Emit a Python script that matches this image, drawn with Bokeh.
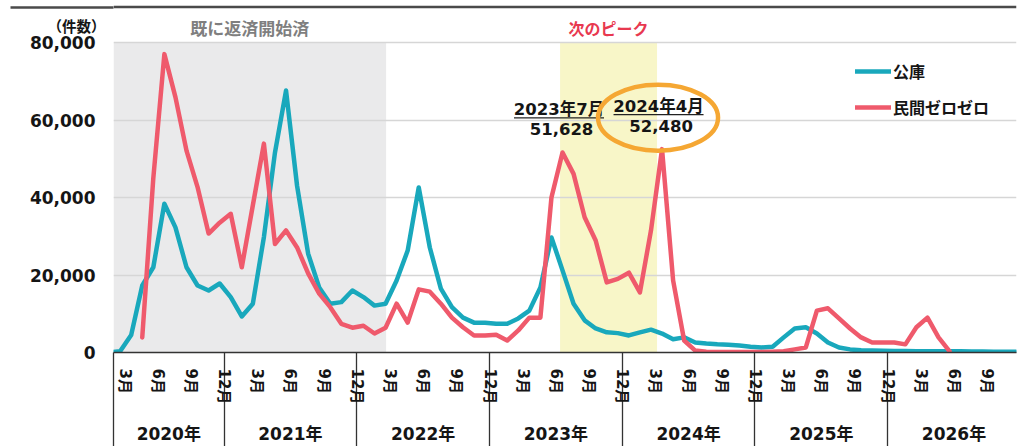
import math
from bokeh.plotting import figure
from bokeh.models import (Range1d, LinearAxis, FixedTicker, NumeralTickFormatter, Legend,
                          LegendItem, Grid)
from bokeh.core.properties import value
from bokeh.embed import file_html
from bokeh.resources import INLINE

# ---------------- data (month index: Jan 2020 = 1) ----------------
kouko_first_month = 2
kouko = [0, 300, 4500, 17300, 22000, 38400, 32300, 22000, 17300, 16000, 17800,
         14300, 9300, 12600, 29800, 51600, 67600, 43000, 25500, 16800, 12600, 13000, 16000,
         14300, 12100, 12600, 18600, 26300, 42600, 27100, 16500, 11700, 9000, 7700, 7700,
         7400, 7400, 8800, 10800, 16800, 29700, 21200, 12600, 8300, 6200, 5200, 5000,
         4400, 5200, 5900, 4900, 3400, 3900, 2600, 2300, 2100, 2000, 1800, 1500,
         1300, 1500, 3900, 6200, 6500, 4900, 2600, 1300, 800, 600, 500, 450,
         400, 400, 350, 350, 300, 300, 300, 250, 250, 200, 200, 200]

minkan_first_month = 5
minkan = [3900, 45000, 77000, 65900, 52100, 42700, 30700, 33500,
          35800, 22000, 38000, 53900, 28000, 31500, 27100, 20400, 15200, 11700, 7400, 6400,
          6900, 4900, 6400, 12600, 7700, 16300, 15700, 12600, 9000, 6500, 4400, 4400,
          4600, 3100, 5700, 9000, 9000, 40000, 51628, 46100, 34900, 28900, 18100, 19000,
          20600, 15500, 31500, 52480, 18600, 3100, 500, 200, 100, 100, 100, 100,
          100, 200, 300, 800, 1300, 10800, 11400, 8800, 6200, 3900, 2600, 2600,
          2600, 2100, 6500, 9000, 3900, 300]

series_names = ["公庫", "民間ゼロゼロ"]
years = ["2020年", "2021年", "2022年", "2023年", "2024年", "2025年", "2026年"]
month_labels = ["3月", "6月", "9月", "12月"]
y_ticks = [0, 20000, 40000, 60000, 80000]
unit_label = "（件数）"

shade_starts = [2.4, 42.78]
shade_ends = [27.05, 51.55]
shade_texts = ["既に返済開始済", "次のピーク"]

peak_months = [43, 52]
peak_dates = ["2023年7月", "2024年4月"]
peak_values = [51628, 52480]

# ---------------- styling / geometry ----------------
TEAL = "#19A8BC"
RED = "#EF5A6C"
INK = "#151515"
FONT = "DejaVu Sans, Noto Sans CJK JP"
JP = "Noto Sans CJK JP"
X0, X1 = 2.4, 84.05
FRAME_W = 903
PXX = (X1 - X0) / FRAME_W
PXY = 80000 / 310            # value units per pixel
Y0, Y1 = 0, 80000 + 42 * PXY  # frame reaches the top of the figure
LABEL_SHIFT = 0.4  # month labels sit at the slot edge

kouko_x = list(range(kouko_first_month, kouko_first_month + len(kouko)))
minkan_x = list(range(minkan_first_month, minkan_first_month + len(minkan)))

p = figure(width=1018, height=446, x_range=Range1d(X0, X1), y_range=Range1d(Y0, Y1),
           output_backend="svg", toolbar_location=None, x_axis_type=None, y_axis_type=None,
           min_border_left=113, min_border_right=2, min_border_top=0, min_border_bottom=94)
p.outline_line_color = None
p.background_fill_color = "white"

# shaded periods
p.quad(left=shade_starts, right=shade_ends, bottom=[0] * 2, top=[y_ticks[-1]] * 2,
       fill_color=["#EAEAEB", "#F8F6C8"], line_color=None, level="image")

# header rule at the top
rule_y = Y1 - 6.5 * PXY
p.quad(left=[X0], right=[X1], bottom=[rule_y - 1.2 * PXY], top=[rule_y + 1.2 * PXY],
       fill_color="#4A4A4A", line_color=None)

# grid
yticker = FixedTicker(ticks=y_ticks)
p.add_layout(Grid(dimension=1, ticker=yticker, grid_line_color="#D6D6D6", grid_line_width=1.5))

# unit label axis (nearest the frame); its minor tick draws the rule's left part
unit_y = 80000 + 17 * PXY
uaxis = LinearAxis(ticker=FixedTicker(ticks=[unit_y], minor_ticks=[rule_y]),
                   major_label_overrides={unit_y: unit_label})
uaxis.axis_line_color = None
uaxis.major_tick_line_color = None
uaxis.minor_tick_out = 103
uaxis.minor_tick_in = 0
uaxis.minor_tick_line_color = "#4A4A4A"
uaxis.minor_tick_line_width = 2.4
uaxis.major_label_standoff = 8 - 103
uaxis.major_label_text_font = JP
uaxis.major_label_text_font_style = "bold"
uaxis.major_label_text_font_size = "14.5px"
uaxis.major_label_text_color = INK
p.add_layout(uaxis, "left")

# value axis
yaxis = LinearAxis(ticker=yticker, formatter=NumeralTickFormatter(format="0,0"))
yaxis.axis_line_color = None
yaxis.major_tick_line_color = None
yaxis.minor_tick_line_color = None
yaxis.major_label_text_font = FONT
yaxis.major_label_text_font_style = "bold"
yaxis.major_label_text_font_size = "17px"
yaxis.major_label_text_color = INK
yaxis.major_label_standoff = -57
p.add_layout(yaxis, "left")

# month axis
month_ticks, month_over = [], {}
for yi in range(len(years)):
    for k, lab in zip([3, 6, 9, 12], month_labels):
        t = yi * 12 + k + LABEL_SHIFT
        month_ticks.append(t)
        month_over[t] = lab
boundaries = [X0] + [12 * (i + 1) + LABEL_SHIFT for i in range(len(years))]
maxis = LinearAxis(ticker=FixedTicker(ticks=month_ticks, minor_ticks=boundaries),
                   major_label_overrides=month_over)
maxis.major_label_orientation = -math.pi / 2
maxis.major_tick_out = 0
maxis.major_tick_in = 0
maxis.minor_tick_out = 94
maxis.minor_tick_in = 0
maxis.minor_tick_line_color = "#333333"
maxis.minor_tick_line_width = 1.3
maxis.axis_line_color = "#333333"
maxis.axis_line_width = 1.5
maxis.major_label_standoff = 16 - 94
maxis.major_label_text_font = FONT
maxis.major_label_text_font_style = "bold"
maxis.major_label_text_font_size = "15px"
maxis.major_label_text_color = INK
p.add_layout(maxis, "below")

# year axis
year_centers = [(boundaries[i] + boundaries[i + 1]) / 2 for i in range(len(years))]
yaxis2 = LinearAxis(ticker=FixedTicker(ticks=year_centers),
                    major_label_overrides={c: y for c, y in zip(year_centers, years)})
yaxis2.axis_line_color = None
yaxis2.major_tick_line_color = None
yaxis2.minor_tick_line_color = None
yaxis2.major_label_standoff = 10
yaxis2.major_label_text_font = FONT
yaxis2.major_label_text_font_style = "bold"
yaxis2.major_label_text_font_size = "17px"
yaxis2.major_label_text_color = INK
p.add_layout(yaxis2, "below")

# series
r1 = p.line(kouko_x, kouko, line_color=TEAL, line_width=4.5, line_join="round", line_cap="round")
r2 = p.line(minkan_x, minkan, line_color=RED, line_width=4.5, line_join="round", line_cap="round")

legend = Legend(items=[LegendItem(label=series_names[0], renderers=[r1]),
                       LegendItem(label=series_names[1], renderers=[r2])],
                location=(742, 233))
legend.padding = 0
legend.margin = 0
legend.spacing = 12
legend.glyph_width = 36
legend.glyph_height = 20
legend.label_height = 20
legend.label_standoff = 2
legend.label_text_font = JP
legend.label_text_font_style = "bold"
legend.label_text_font_size = "16px"
legend.label_text_color = INK
legend.border_line_color = None
legend.background_fill_alpha = 0
p.add_layout(legend)

# header texts above the shaded periods
head_y = 80000 + 15 * PXY
p.text(x=[(shade_starts[0] + shade_ends[0]) / 2], y=[head_y], text=[shade_texts[0]],
       text_font=value(JP), text_font_style="bold", text_font_size="17px",
       text_color="#7F7F7F", text_align="center", text_baseline="middle")
p.text(x=[(shade_starts[1] + shade_ends[1]) / 2], y=[head_y], text=[shade_texts[1]],
       text_font=value(JP), text_font_style="bold", text_font_size="16px",
       text_color="#E8384F", text_align="center", text_baseline="middle")

# peak annotations
date_x = [m - 3.5 * PXX for m in peak_months]
date_y = [v + 43 * PXY for v in peak_values]
num_x = [m - 1.0 * PXX for m in peak_months]
num_y = [v + 23 * PXY for v in peak_values]
p.text(x=date_x, y=date_y, text=peak_dates, text_font=value(FONT), text_font_style="bold",
       text_font_size="16.5px", text_align="center", text_baseline="middle", text_color=INK)
p.text(x=num_x, y=num_y, text=[f"{v:,}" for v in peak_values], text_font=value(FONT),
       text_font_style="bold", text_font_size="16.5px", text_align="center",
       text_baseline="middle", text_color=INK)
p.segment(x0=[x - 45 * PXX for x in date_x], x1=[x + 45 * PXX for x in date_x],
          y0=[y - 8.5 * PXY for y in date_y], y1=[y - 8.5 * PXY for y in date_y],
          line_color="#222222", line_width=1.3)
p.ellipse(x=[peak_months[1] - 4 * PXX], y=[peak_values[1] + 31.5 * PXY], width=120, height=66,
          width_units="screen", height_units="screen", fill_color=None,
          line_color="#F5A733", line_width=4.5)

open("out.html", "w").write(file_html(p, INLINE))
